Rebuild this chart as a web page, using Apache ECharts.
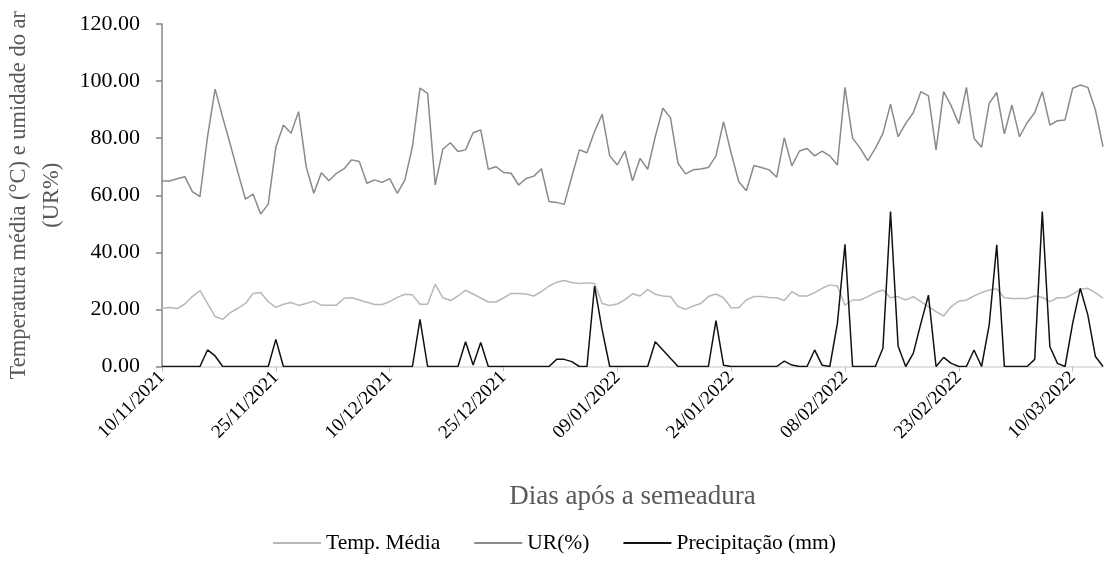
<!DOCTYPE html>
<html>
<head>
<meta charset="utf-8">
<script src="https://cdn.jsdelivr.net/npm/echarts@6/dist/echarts.min.js"></script>
<style>
html,body{margin:0;padding:0;background:#fff;}
#c{width:1105px;height:576px;}
</style>
</head>
<body>
<div id="c"></div>
<script>
// Daily series starting 10/11/2021 (125 days)
var startDate = [2021, 10, 10]; // year, month(0-based), day
var nDays = 125;

var tempMedia = [20.4,20.7,20.3,21.9,24.5,26.6,22.1,17.5,16.5,18.9,
20.4,22.1,25.6,25.9,22.7,20.7,21.8,22.4,21.4,22.1,
22.9,21.5,21.5,21.5,23.9,24.1,23.3,22.5,21.7,21.7,
22.7,24.2,25.3,25.1,21.8,21.8,28.8,24.1,23.1,24.7,
26.7,25.4,24.0,22.6,22.6,24.0,25.6,25.6,25.4,24.7,
26.2,28.2,29.5,30.1,29.4,29.1,29.3,29.1,22.1,21.4,
21.9,23.4,25.5,24.7,27.0,25.3,24.7,24.5,21.0,20.0,
21.2,22.1,24.5,25.4,24.1,20.6,20.6,23.3,24.5,24.5,
24.2,24.1,23.1,26.2,24.7,24.7,25.9,27.4,28.6,28.2,
21.5,23.3,23.3,24.5,25.9,26.8,24.1,24.5,23.3,24.5,
22.7,21.0,19.2,17.7,21.0,22.9,23.3,24.7,25.9,26.8,
27.2,24.1,23.8,23.8,23.8,24.7,24.2,22.7,24.1,24.1,
25.3,27.0,27.4,25.9,23.9];

var urPct = [65.0,65.0,65.8,66.5,61.3,59.5,80.5,97.2,87.3,77.8,
68.0,58.6,60.4,53.4,56.9,76.8,84.6,81.7,89.3,70.0,
60.7,67.9,65.1,67.7,69.3,72.4,71.8,64.2,65.4,64.5,
65.8,60.7,65.3,77.0,97.5,95.7,63.6,76.1,78.4,75.3,
75.9,81.9,82.9,69.1,70.0,68.0,67.7,63.6,65.9,66.7,
69.3,57.8,57.5,56.8,66.5,75.9,74.9,82.3,88.4,73.8,
70.6,75.5,65.1,72.9,69.1,80.5,90.5,87.2,71.2,67.5,
68.9,69.2,69.7,73.8,85.8,74.7,64.8,61.6,70.4,69.7,
68.9,66.3,80.2,70.3,75.5,76.4,73.8,75.5,73.8,70.6,
97.8,80.0,76.5,72.1,76.4,81.7,91.9,80.5,85.2,88.9,
96.3,94.8,75.9,96.3,91.3,85.0,97.8,80.0,76.8,92.2,
96.0,81.5,91.6,80.5,85.4,88.9,96.3,84.6,86.1,86.4,
97.5,98.6,97.8,89.9,77.0];

var precip = [0,0,0,0,0,0,5.8,3.7,0,0,
0,0,0,0,0,9.5,0,0,0,0,
0,0,0,0,0,0,0,0,0,0,
0,0,0,0,16.5,0,0,0,0,0,
8.7,0.5,8.4,0,0,0,0,0,0,0,
0,0,2.5,2.5,1.7,0,0,28.2,12.8,0,
0,0,0,0,0,8.7,5.8,2.9,0,0,
0,0,0,16.1,0.4,0,0,0,0,0,
0,0,1.9,0.5,0,0,5.8,0.4,0,15.1,
42.8,0,0,0,0,6.4,54.3,7.2,0,4.6,
15.1,25.0,0,3.2,1.1,0,0,5.8,0,14.5,
42.6,0,0,0,0,2.5,54.3,6.9,1.1,0,
15.1,27.4,18.1,3.5,0];

var seriesNames = ['Temp. Média', 'UR(%)', 'Precipitação (mm)'];
var yTicks = [0, 20, 40, 60, 80, 100, 120];
var xTitle = 'Dias após a semeadura';
var yTitle = 'Temperatura média (°C) e umidade do ar\n(UR%)';

function pad(n){ return (n < 10 ? '0' : '') + n; }
var categories = [];
for (var i = 0; i < nDays; i++) {
  var d = new Date(startDate[0], startDate[1], startDate[2] + i);
  categories.push(pad(d.getDate()) + '/' + pad(d.getMonth() + 1) + '/' + d.getFullYear());
}

var FONT = '"Liberation Serif", "Times New Roman", serif';
var chart = echarts.init(document.getElementById('c'), null, {renderer: 'canvas'});
chart.setOption({
  animation: false,
  backgroundColor: '#ffffff',
  textStyle: {fontFamily: FONT},
  grid: {left: 162, right: 2, top: 24, bottom: 209.5, containLabel: false, outerBoundsMode: 'none'},
  legend: {
    data: seriesNames,
    left: 268, top: 527,
    itemWidth: 48, itemHeight: 2, itemGap: 34,
    icon: 'rect',
    textStyle: {fontFamily: FONT, fontSize: 21.5, color: '#000'}
  },
  xAxis: {
    type: 'category',
    data: categories,
    boundaryGap: false,
    name: xTitle,
    nameLocation: 'middle',
    nameGap: 117,
    nameTextStyle: {fontFamily: FONT, fontSize: 27, color: '#595959'},
    axisLine: {show: true, lineStyle: {color: '#d9d9d9', width: 1.5}},
    axisTick: {show: true, interval: 14, length: 5, lineStyle: {color: '#bfbfbf'}},
    axisLabel: {interval: 14, rotate: 45, fontFamily: FONT, fontSize: 19, color: '#000', margin: 8},
    splitLine: {show: false}
  },
  yAxis: {
    type: 'value',
    min: yTicks[0], max: yTicks[yTicks.length - 1], interval: 20,
    name: yTitle,
    nameLocation: 'middle',
    nameRotate: 90,
    nameGap: 88,
    nameTextStyle: {fontFamily: FONT, fontSize: 22.5, color: '#595959', lineHeight: 33, align: 'center'},
    axisLine: {show: true, lineStyle: {color: '#868686', width: 1.5}},
    axisTick: {show: true, length: 6, lineStyle: {color: '#868686', width: 1.5}},
    axisLabel: {fontFamily: FONT, fontSize: 22, color: '#000', margin: 22,
      formatter: function(v){ return v.toFixed(2); }},
    splitLine: {show: false}
  },
  series: [
    {name: seriesNames[0], type: 'line', data: tempMedia, symbol: 'none',
     lineStyle: {color: '#b8b8b8', width: 1.5}, itemStyle: {color: '#b8b8b8'}},
    {name: seriesNames[1], type: 'line', data: urPct, symbol: 'none',
     lineStyle: {color: '#8a8a8a', width: 1.5}, itemStyle: {color: '#8a8a8a'}},
    {name: seriesNames[2], type: 'line', data: precip, symbol: 'none',
     lineStyle: {color: '#111111', width: 1.5}, itemStyle: {color: '#111111'}}
  ]
});
</script>
</body>
</html>
